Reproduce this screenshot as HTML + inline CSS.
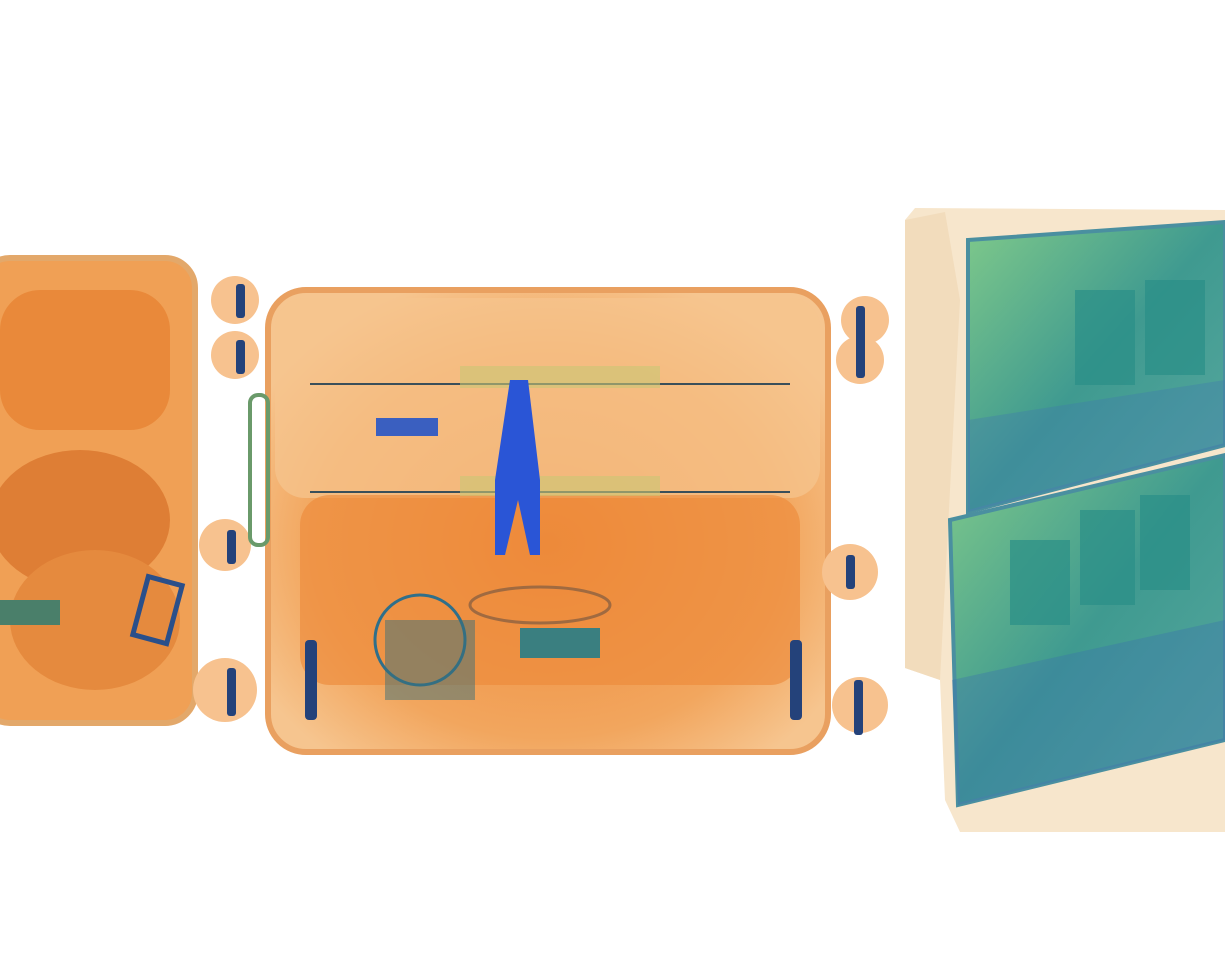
<!DOCTYPE html>
<html><head><meta charset="utf-8"><style>
html,body{margin:0;padding:0;background:#fff;width:1225px;height:954px;overflow:hidden}
svg{display:block}
</style></head><body>
<svg width="1225" height="954" viewBox="0 0 1225 954">
<defs>
<linearGradient id="laptop" x1="0" y1="0" x2="1" y2="1"><stop offset="0" stop-color="#7fc98a"/><stop offset="0.5" stop-color="#3f9a90"/><stop offset="1" stop-color="#5aa9a0"/></linearGradient>
<radialGradient id="orange" cx="0.5" cy="0.55" r="0.6"><stop offset="0" stop-color="#ee8a3a"/><stop offset="0.7" stop-color="#f2a65e"/><stop offset="1" stop-color="#f6c58f"/></radialGradient>
</defs>
<rect width="1225" height="954" fill="#ffffff"/>
<g>
<rect x="-20" y="258" width="215" height="465" rx="30" fill="#f0a055" stroke="#e3a86a" stroke-width="6"/>
<rect x="0" y="290" width="170" height="140" rx="40" fill="#e9893a"/>
<ellipse cx="80" cy="520" rx="90" ry="70" fill="#de7e35"/>
<ellipse cx="95" cy="620" rx="85" ry="70" fill="#e58a3e"/>
<rect x="0" y="600" width="60" height="25" fill="#4a7f6a"/>
<rect x="140" y="580" width="35" height="60" fill="none" stroke="#2a4f8a" stroke-width="5" transform="rotate(15 157 610)"/>
<g fill="#f7c28f"><circle cx="235" cy="300" r="24"/><circle cx="235" cy="355" r="24"/><circle cx="225" cy="545" r="26"/><circle cx="225" cy="690" r="32"/></g>
<g fill="#24427a"><rect x="236" y="284" width="9" height="34" rx="3"/><rect x="236" y="340" width="9" height="34" rx="3"/><rect x="227" y="530" width="9" height="34" rx="3"/><rect x="227" y="668" width="9" height="48" rx="3"/></g>
</g>
<g>
<rect x="268" y="290" width="560" height="462" rx="38" fill="url(#orange)" stroke="#e9a060" stroke-width="6"/>
<rect x="275" y="298" width="545" height="200" rx="30" fill="#f5c48e" opacity="0.75"/>
<rect x="300" y="495" width="500" height="190" rx="30" fill="#ec8a3a" opacity="0.65"/>
<line x1="310" y1="384" x2="790" y2="384" stroke="#3a4f5a" stroke-width="2"/>
<line x1="310" y1="492" x2="790" y2="492" stroke="#3a4f5a" stroke-width="2"/>
<rect x="460" y="366" width="200" height="22" fill="#c9c675" opacity="0.6"/>
<rect x="460" y="476" width="200" height="20" fill="#c9c675" opacity="0.6"/>
<rect x="376" y="418" width="62" height="18" fill="#3a5fc0"/>
<path d="M510 380 L528 380 L540 480 L540 555 L530 555 L518 500 L505 555 L495 555 L495 480 Z" fill="#2a55d6"/>
<rect x="250" y="395" width="18" height="150" rx="8" fill="none" stroke="#6a9a6a" stroke-width="4"/>
<circle cx="420" cy="640" r="45" fill="none" stroke="#2f6f8a" stroke-width="3"/>
<rect x="385" y="620" width="90" height="80" fill="#3a6f7a" opacity="0.5"/>
<rect x="520" y="628" width="80" height="30" fill="#3a7f80"/>
<ellipse cx="540" cy="605" rx="70" ry="18" fill="none" stroke="#a06a40" stroke-width="3"/>
<g fill="#f7c28f"><circle cx="865" cy="320" r="24"/><circle cx="860" cy="360" r="24"/><circle cx="850" cy="572" r="28"/><circle cx="860" cy="705" r="28"/></g>
<g fill="#24427a"><rect x="856" y="306" width="9" height="40" rx="3"/><rect x="856" y="340" width="9" height="38" rx="3"/><rect x="846" y="555" width="9" height="34" rx="3"/><rect x="854" y="680" width="9" height="55" rx="3"/><rect x="305" y="640" width="12" height="80" rx="4"/><rect x="790" y="640" width="12" height="80" rx="4"/></g>
</g>
<g>
<polygon points="915,208 1225,210 1225,832 960,832 945,800 940,680 905,668 905,220" fill="#f7e6cc"/>
<polygon points="905,220 945,212 960,300 940,680 905,668" fill="#f2dcbc"/>
<polygon points="968,240 1225,222 1225,445 968,512" fill="url(#laptop)" stroke="#4a8fa0" stroke-width="4"/>
<polygon points="968,420 1225,380 1225,445 968,512" fill="#3f78b0" opacity="0.35"/>
<polygon points="950,520 1225,455 1225,740 958,805" fill="url(#laptop)" stroke="#4a8fa0" stroke-width="4"/>
<polygon points="952,680 1225,620 1225,740 958,805" fill="#3a6fb0" opacity="0.35"/>
<g fill="#2a8f88" opacity="0.7"><rect x="1075" y="290" width="60" height="95"/><rect x="1145" y="280" width="60" height="95"/><rect x="1080" y="510" width="55" height="95"/><rect x="1140" y="495" width="50" height="95"/><rect x="1010" y="540" width="60" height="85"/></g>
</g>
</svg>
</body></html>
